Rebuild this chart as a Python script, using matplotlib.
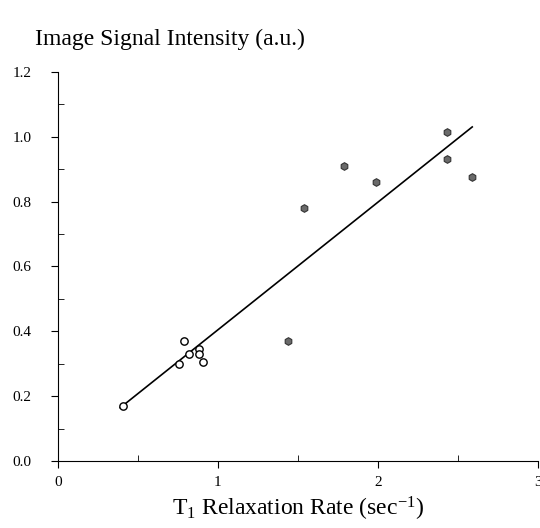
import numpy as np
import matplotlib
matplotlib.use("Agg")
import matplotlib.pyplot as plt
from matplotlib.ticker import MultipleLocator

# === DATA ===
open_x = [0.41, 0.76, 0.79, 0.82, 0.88, 0.88, 0.91]
open_y = [0.17, 0.30, 0.37, 0.33, 0.345, 0.33, 0.305]
filled_x = [1.44, 1.54, 1.79, 1.99, 2.43, 2.43, 2.59]
filled_y = [0.37, 0.78, 0.91, 0.86, 1.015, 0.93, 0.877]
fit_x = [0.39, 2.59]
fit_y = [0.164, 1.03]
x_ticks = [0, 1, 2, 3]
y_ticks = [0.0, 0.2, 0.4, 0.6, 0.8, 1.0, 1.2]

plt.rcParams['font.family'] = ['Liberation Serif', 'DejaVu Serif']
plt.rcParams['mathtext.fontset'] = 'custom'
plt.rcParams['mathtext.rm'] = 'Liberation Serif'
plt.rcParams['mathtext.it'] = 'Liberation Serif'

fig = plt.figure(figsize=(5.4, 5.28), dpi=100)
ax = fig.add_axes([0.107, 0.127, 0.889, 0.737])

ax.plot(fit_x, fit_y, color='black', lw=1.2)
ax.scatter(open_x, open_y, s=28, facecolor='white', edgecolor='black', lw=1.0, zorder=3)
ax.scatter(filled_x, filled_y, s=30, marker='h', facecolor='#6a6a6a', edgecolor='#333333', lw=0.8, zorder=3)

ax.set_xlim(0, 3)
ax.set_ylim(0, 1.2)
for s in ['top', 'right']:
    ax.spines[s].set_visible(False)

ax.set_xticks(x_ticks)
ax.set_xticklabels([str(v) for v in x_ticks])
ax.set_yticks(y_ticks)
ax.set_yticklabels([f"{v:.1f}" for v in y_ticks])
ax.xaxis.set_minor_locator(MultipleLocator(0.5))
ax.yaxis.set_minor_locator(MultipleLocator(0.1))
ax.tick_params(axis='x', which='major', direction='out', length=5, labelsize=11, pad=6)
ax.tick_params(axis='x', which='minor', direction='in', length=4)
ax.tick_params(axis='y', which='major', direction='out', length=5, labelsize=11, pad=14)
ax.tick_params(axis='y', which='minor', direction='in', length=4)

ax.set_xlabel(r"T$_1$ Relaxation Rate (sec$^{\mathrm{-1}}$)", fontsize=17, labelpad=4)
fig.text(0.065, 0.925, "Image Signal Intensity (a.u.)", fontsize=17, ha='left', va='center')

fig.savefig("out.png", dpi=100)
